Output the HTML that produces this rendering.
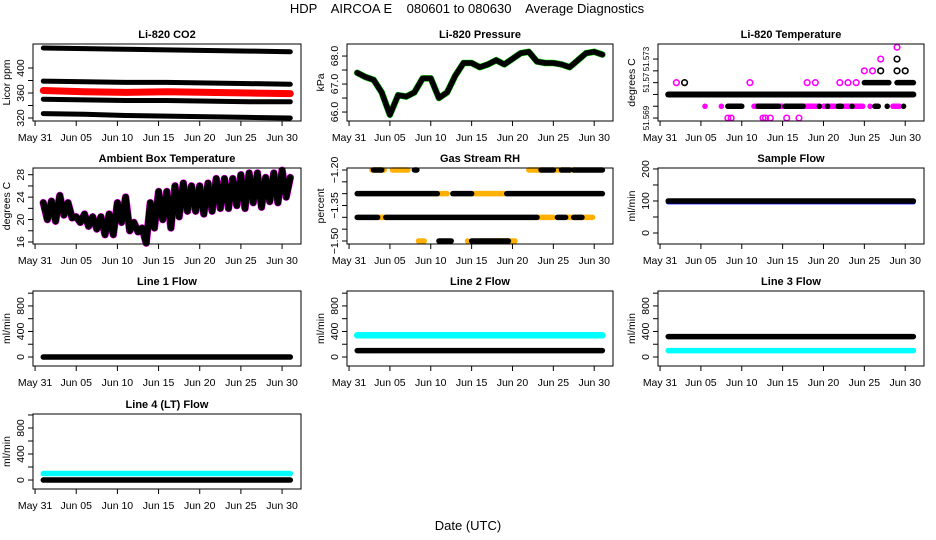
<!DOCTYPE html>
<html><head><meta charset="utf-8">
<style>
body{margin:0;background:#fff;}
svg{display:block;font-family:"Liberation Sans",Arial,sans-serif;}
.t{font-size:11px;font-weight:bold;}
.tk{font-size:10.5px;}
.tks{font-size:8px;}
</style></head>
<body>
<svg id="c" width="936" height="540" viewBox="0 0 936 540">
<text x="467" y="13" text-anchor="middle" font-size="13" style="white-space:pre" xml:space="preserve">HDP    AIRCOA E    080601 to 080630    Average Diagnostics</text>
<text x="468" y="530" text-anchor="middle" font-size="13">Date (UTC)</text>
</svg>
<script>
// shared x axis
const xTickDays = [0,5,10,15,20,25,30];
const xTickLabels = ["May 31","Jun 05","Jun 10","Jun 15","Jun 20","Jun 25","Jun 30"];

// CO2
const co2Days = [1,6,11,16,21,26,31];
const co2Top = [432,431,430,429,428,427,426];
const co2Mid = [379,378,377,377,376,375,374];
const co2Red = [364,362,361,362,361,360,359];
const co2Low = [350,349,348,348,347,346,346];
const co2Bot = [327,326,324,323,322,321,320];
// pressure
const days = [1,2,3,4,5,6,7,8,9,10,11,12,13,14,15,16,17,18,19,20,21,22,23,24,25,26,27,28,29,30,31];
const pressure = [67.4,67.25,67.15,66.7,65.9,66.6,66.55,66.7,67.2,67.2,66.5,66.7,67.3,67.75,67.75,67.6,67.7,67.85,67.7,67.9,68.1,68.15,67.8,67.75,67.75,67.7,67.6,67.85,68.1,68.15,68.05];
// ambient temperature daily min / max
const ambMin = [20,19.7,20.8,20.3,19.5,18.8,18.3,17.3,17.3,19.5,18,17.8,15.8,18.5,20,18.5,20.5,21.5,21.5,21,21.5,22,22,22.5,22,23,22.2,23.2,23,24,25.5];
const ambMax = [23,23.3,24.3,23,20.5,21,20.5,20.5,21,23,24,19.5,18.5,23,25,25,26,26.5,26,26,26.5,27.3,27.3,27.3,28,28.3,28.3,27.5,28.3,28.8,27.5];
// Li-820 temperature
const tempBlackBand = [[51.5706,1,31]];
const tempBlackSegs = [[51.5698,8.3,10],[51.5698,12,14.5],[51.5698,15.3,17.5],[51.5698,19.5,19.5],[51.5698,20.5,20.5],[51.5698,21.8,22.2],[51.5698,23.5,23.5],[51.5698,26.3,26.7],[51.5698,27.8,27.8],[51.5698,29.8,29.8],[51.5714,25,28],[51.5714,29,31]];
const tempPinkSegs = [[51.5698,5.5,5.5],[51.5698,7.5,7.5],[51.5698,11.5,12],[51.5698,14.5,15],[51.5698,16,19.5],[51.5698,20,21.5],[51.5698,22.5,24.8],[51.5698,25.7,25.7],[51.5698,28.5,29.3]];
const tempPinkPts = [[51.569,8.3],[51.569,8.7],[51.569,12.6],[51.569,12.9],[51.569,13.5],[51.569,15.5],[51.569,17],[51.5714,2],[51.5714,11],[51.5714,18],[51.5714,19],[51.5714,22],[51.5714,23],[51.5714,24],[51.5722,25],[51.5722,26],[51.573,27],[51.5738,29]];
const tempBlackPts = [[51.5714,3],[51.5722,27],[51.5722,29],[51.5722,30],[51.573,29]];
// RH
const rhOrangeSegs = [[-1.2,2.8,4.3],[-1.2,5.3,7.2],[-1.2,22,23.5],[-1.2,25,26],[-1.2,27,27.5],[-1.3,10.8,12],[-1.3,15,19],[-1.4,3.5,4.5],[-1.4,23,25],[-1.4,26.5,29.8],[-1.5,8.5,9.2],[-1.5,14.5,14.5],[-1.5,16,20.3]];
const rhBlackSegs = [[-1.2,3,4],[-1.2,8,8.3],[-1.2,23.5,25],[-1.2,26,27],[-1.2,27.5,31],[-1.3,1,10.8],[-1.3,12.7,15],[-1.3,19.3,31],[-1.4,1,3.5],[-1.4,4.5,23],[-1.4,25.5,26.5],[-1.4,27.5,28.5],[-1.5,11,12.5],[-1.5,15,19.5]];
// flows
const sampleFlow = [[100,1,31]];
const line1Black = [[0,1,31]];
const line2Cyan = [[340,1,31]];
const line2Black = [[100,1,31]];
const line3Black = [[320,1,31]];
const line3Cyan = [[100,1,31]];
const line4Cyan = [[100,1,31]];
const line4Black = [[0,1,31]];

const NS="http://www.w3.org/2000/svg";
const svg=document.getElementById('c');
function el(tag,attrs,parent){const e=document.createElementNS(NS,tag);for(const k in attrs)e.setAttribute(k,attrs[k]);(parent||svg).appendChild(e);return e;}

const cols=[[33,301],[347,613],[658,924]];
const rows=[[44,121],[168,244],[291,366],[414,489]];
const XD=[-0.25,32.3];

function panel(name,title,ytitle,c,r,yd,ticks,labels,ycls){
  const [x0,x1]=cols[c],[y0,y1]=rows[r];
  const g=el('g',{});
  
  
  const sx=d=>x0+(d-XD[0])/(XD[1]-XD[0])*(x1-x0);
  const sy=v=>y1-(v-yd[0])/(yd[1]-yd[0])*(y1-y0);
  const marks=el('g',{},g);
  const box=el('rect',{x:x0,y:y0,width:x1-x0,height:y1-y0,fill:'none',stroke:'#000','stroke-width':1},g);
  
  
  const tt=el('text',{x:(x0+x1)/2,y:y0-6,'text-anchor':'middle',class:'t'},g);tt.textContent=title;
  
  
  xTickDays.forEach((d,i)=>{
    el('line',{x1:sx(d),x2:sx(d),y1:y1,y2:y1+5,stroke:'#000'},g);
    const t=el('text',{x:sx(d),y:y1+20,'text-anchor':'middle',class:'tk'},g);t.textContent=xTickLabels[i];
    
    
  });
  ticks.forEach((v,i)=>{
    el('line',{x1:x0-5,x2:x0,y1:sy(v),y2:sy(v),stroke:'#000'},g);
    if(labels[i]){const t=el('text',{x:x0-9,y:sy(v),'text-anchor':'middle',class:ycls||'tk',transform:`rotate(-90 ${x0-9} ${sy(v)})`},g);t.textContent=labels[i];
    
    }
  });
  const yt=el('text',{x:x0-23,y:(y0+y1)/2,'text-anchor':'middle',class:'tk',transform:`rotate(-90 ${x0-23} ${(y0+y1)/2})`},g);yt.textContent=ytitle;
  
  
  return {sx,sy,marks};
}
function poly(p,xs,ys,color,w,nm){
  const pts=xs.map((d,i)=>p.sx(d).toFixed(1)+','+p.sy(ys[i]).toFixed(1)).join(' ');
  const e=el('polyline',{points:pts,fill:'none',stroke:color,'stroke-width':w,'stroke-linejoin':'round','stroke-linecap':'round'},p.marks);
  
  
}
function segs(p,arr,color,w,nm){
  arr.forEach(s=>{
    const e=el('line',{x1:p.sx(s[1]),x2:p.sx(s[2]),y1:p.sy(s[0]),y2:p.sy(s[0]),stroke:color,'stroke-width':w,'stroke-linecap':'round'},p.marks);
    
    
  });
}
function pts(p,arr,color,fill,nm){
  arr.forEach(s=>{
    const e=el('circle',{cx:p.sx(s[1]),cy:p.sy(s[0]),r:2.8,fill:fill,stroke:color,'stroke-width':1.6},p.marks);
    
    
  });
}

// CO2
let p=panel('co2','Li-820 CO2','Licor ppm',0,0,[315.2,438.4],[320,340,360,380,400],['320','','360','','400']);
poly(p,co2Days,co2Top,'#000',5,'co2-band-top');
poly(p,co2Days,co2Mid,'#000',5,'co2-band-mid');
poly(p,co2Days,co2Red,'#f00',7,'co2-red-series');
poly(p,co2Days,co2Low,'#000',5,'co2-band-low');
poly(p,co2Days,co2Bot,'#000',5,'co2-band-bottom');

// Pressure
p=panel('pressure','Li-820 Pressure','kPa',1,0,[65.68,68.43],[66,66.5,67,67.5,68],['66.0','','67.0','','68.0']);
poly(p,days,pressure,'#0c0',6.5,'pressure-green-series');
poly(p,days,pressure,'#000',5.5,'pressure-series');

// Temperature
p=panel('li820-temp','Li-820 Temperature','degrees C',2,0,[51.56880,51.57402],[51.569,51.5698,51.5706,51.5714,51.5722,51.573],['51.569','','','51.57','','51.573'],'tks');
segs(p,tempPinkSegs,'#f0f',5.5,'temp-pink-points');
segs(p,tempBlackSegs,'#000',5.5,'temp-black-points');
segs(p,tempBlackBand,'#000',6,'temp-main-band');
pts(p,tempPinkPts,'#f0f','none','temp-pink-point');
pts(p,tempBlackPts,'#000','none','temp-black-point');

// Ambient
p=panel('ambient','Ambient Box Temperature','degrees C',0,1,[15.64,29.2],[16,18,20,22,24,26,28],['16','','20','','24','','28']);
const ax=[],ay=[];
days.forEach((d,i)=>{ax.push(d);ay.push(ambMax[i]);if(i<days.length-1){ax.push(d+0.5);ay.push(ambMin[i]);}});
poly(p,ax,ay,'#f0f',7.5,'ambient-magenta-series');
poly(p,ax,ay,'#000',6.5,'ambient-series');

// RH
p=panel('rh','Gas Stream RH','percent',1,1,[-1.5127,-1.1916],[-1.5,-1.45,-1.4,-1.35,-1.3,-1.25,-1.2],['\u22121.50','','','\u22121.35','','','\u22121.20']);
segs(p,rhOrangeSegs,'#ffb000',5.5,'rh-orange-points');
segs(p,rhBlackSegs,'#000',5.5,'rh-black-points');

// Sample flow
p=panel('sample-flow','Sample Flow','ml/min',2,1,[-34.4,203],[0,50,100,150,200],['0','','100','','200']);
segs(p,[[97,1,31]],'#00f',5,'sample-flow-blue');
segs(p,sampleFlow,'#000',5.5,'sample-flow-series');

const fT=[0,200,400,600,800,1000], fL=['0','','400','','800',''];
p=panel('line1','Line 1 Flow','ml/min',0,2,[-141,1034],fT,fL);
segs(p,line1Black,'#000',5.5,'line1-flow-series');
p=panel('line2','Line 2 Flow','ml/min',1,2,[-141,1034],fT,fL);
segs(p,line2Cyan,'#0ff',6.5,'line2-cyan-series');
segs(p,line2Black,'#000',5.5,'line2-black-series');
p=panel('line3','Line 3 Flow','ml/min',2,2,[-141,1034],fT,fL);
segs(p,line3Cyan,'#0ff',5.5,'line3-cyan-series');
segs(p,line3Black,'#000',5.5,'line3-black-series');
p=panel('line4','Line 4 (LT) Flow','ml/min',0,3,[-138,1015],fT,fL);
segs(p,line4Cyan,'#0ff',5.5,'line4-cyan-series');
segs(p,line4Black,'#000',5.5,'line4-black-series');
</script>
</body></html>
